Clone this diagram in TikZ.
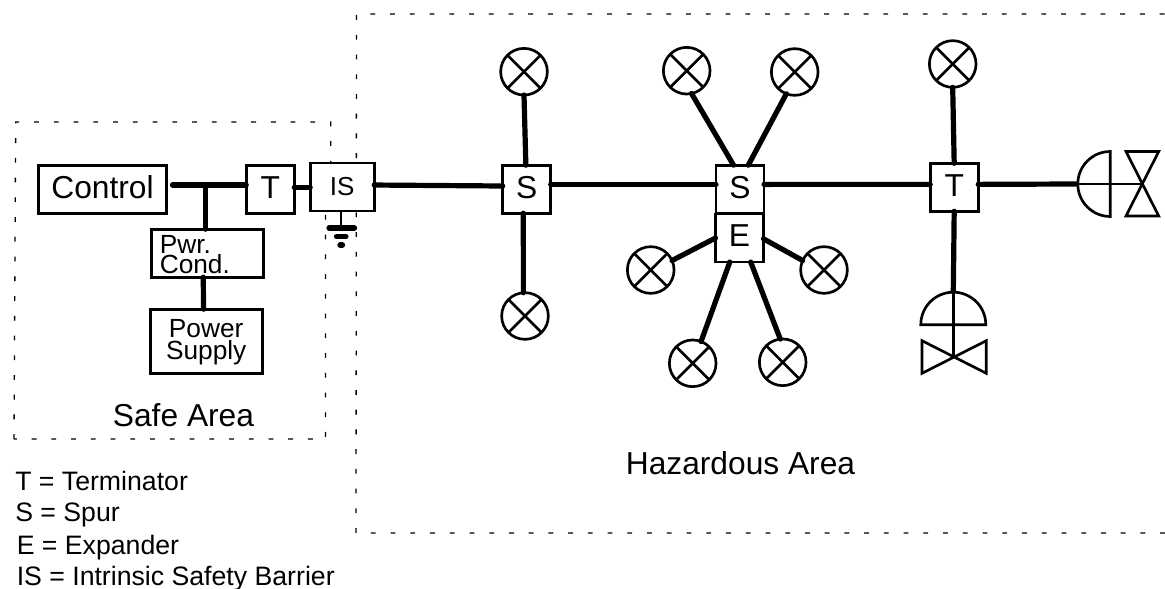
\documentclass[tikz,border=0pt]{standalone}
\usepackage{fontspec}
\setmainfont{Liberation Sans}
\tikzset{
  block/.style={draw,line width=2pt,fill=white,inner sep=0pt,outer sep=0pt,text depth=3pt,font=\fontsize{23.8}{24}\selectfont},
  lamp/.style={circle,draw,line width=2pt,fill=white,inner sep=0pt,outer sep=0pt,minimum size=35pt,
    path picture={
      \draw[line width=2pt] (path picture bounding box.south west) -- (path picture bounding box.north east);
      \draw[line width=2pt] (path picture bounding box.north west) -- (path picture bounding box.south east);
    }},
  area/.style={line width=1pt,dash pattern=on 3.6pt off 11.2pt},
  bus/.style={line width=3.9pt,line cap=round},
  wire/.style={line width=2pt},
  legend/.style={anchor=base west,inner sep=0pt,font=\fontsize{20}{24}\selectfont},
  title/.style={anchor=base,inner sep=0pt,font=\fontsize{23.8}{24}\selectfont}
}
\begin{document}
\begin{tikzpicture}[x=0.75pt,y=-0.75pt]
  \useasboundingbox (0,0) rectangle (1165,589);
  \draw[area] (14,439) -- (15.7,122) -- (330.7,122) -- (330.7,190) -- (325.5,190) -- (325.5,439) -- cycle;
  \draw[area] (1165,533) -- (356,533) -- (356.5,14) -- (1165,14);
  \node[block,minimum width=96pt,minimum height=36pt] (control) at (102.5,189.3) {Control};
  \node[block,minimum width=36pt,minimum height=36pt] (term0) at (270.2,189.3) {T};
  \node[block,minimum width=48pt,minimum height=36pt,text depth=-3pt,font=\fontsize{19.5}{20}\selectfont] (barrier) at (342.2,186.9) {IS};
  \node[block,minimum width=84pt,minimum height=36pt,text width=72pt,align=left,text depth=13.5pt,font=\fontsize{19.7}{15}\selectfont] (pwrcond) at (207.8,253.2) {Pwr.\\Cond.};
  \node[block,minimum width=84pt,minimum height=48pt,align=center,font=\fontsize{19.7}{16.2}\selectfont] (supply) at (206.2,341.2) {Power\\Supply};
  \node[block,minimum width=36pt,minimum height=36pt] (spur1) at (526.7,189.2) {S};
  \node[block,minimum width=36pt,minimum height=36pt] (spur2) at (740,189.2) {S};
  \node[block,minimum width=36pt,minimum height=36pt] (exp) at (739.5,238) {E};
  \node[block,minimum width=36pt,minimum height=36pt] (term1) at (954.2,187.3) {T};
  \node[lamp] (l1) at (524,71.7) {};
  \node[lamp] (l2) at (525,316) {};
  \node[lamp] (l3) at (686.7,70.7) {};
  \node[lamp] (l4) at (794.7,72) {};
  \node[lamp] (l5) at (650.7,270) {};
  \node[lamp] (l6) at (824,270) {};
  \node[lamp] (l7) at (692.7,363.3) {};
  \node[lamp] (l8) at (782.7,362.3) {};
  \node[lamp] (l9) at (952.7,64) {};
  \coordinate (tee) at (205.5,185);
  \coordinate (vtop) at (953.3,291.7);
  \coordinate (vright) at (1076,184);
  \coordinate (gnd) at (341,228);
  \draw[wire] (vright) -- (1142.3,184);
  \draw[wire] (1110.3,151.5) arc[start angle=270,end angle=90,radius=32.5] -- cycle;
  \draw[wire] (1126,151.5) -- (1158.7,151.5) -- (1126,216) -- (1158.7,216) -- cycle;
  \draw[wire] (vtop) -- (953.3,356.7);
  \draw[wire] (920.8,324.7) arc[start angle=180,end angle=360,radius=32.5] -- cycle;
  \draw[wire] (922,340.7) -- (922,373.3) -- (986.3,340.7) -- (986.3,373.3) -- cycle;
  \begin{scope}[bus]
    \draw[shorten <=4.5pt] (control.east |- tee) to (term0.west |- tee);
    \draw (tee) to (pwrcond.north -| tee);
    \draw ([xshift=-3.4pt]pwrcond.south) to ([xshift=-2pt]supply.north);
    \draw ([yshift=1.5pt]term0.east) to ([yshift=-.3pt]barrier.west);
    \draw ([yshift=1.4pt]barrier.east) to ([yshift=2.4pt]spur1.west);
    \draw ([yshift=3.6pt]spur1.east) to ([yshift=3.6pt]spur2.west);
    \draw ([yshift=3.6pt]spur2.east) to ([yshift=2.2pt]term1.west);
    \draw ([yshift=2.2pt]term1.east) to (vright);
    \draw (spur1.92) to (l1.south);
    \draw (spur1.-98) to (l2.94);
    \draw (spur2.105) to (l3.-78);
    \draw (spur2.71) to (l4.-111);
    \draw (exp.west) to (l5.24);
    \draw (exp.-2) to (l6.156);
    \draw (exp.-112) to (l7.69);
    \draw (exp.-65) to (l8.96);
    \draw (term1.north) to (l9.south);
    \draw (term1.south) to (vtop);
  \end{scope}
  \draw[line width=2.2pt] (barrier.south -| gnd) to (gnd);
  \draw[bus] (329,228) -- (354.5,228);
  \draw[bus] (336.5,236.7) -- (346,236.7);
  \draw[bus] (340,245) -- (342.5,245);
  \node[title] (safe) at (183.5,426) {Safe Area};
  \node[title] (haz) at (740.5,474) {Hazardous Area};
  \node[legend] (leg1) at (15,490) {T = Terminator};
  \node[legend] (leg2) at (15,521.7) {S = Spur};
  \node[legend] (leg3) at (16.5,554) {E = Expander};
  \node[legend] (leg4) at (16.5,585) {IS = Intrinsic Safety Barrier};
\end{tikzpicture}
\end{document}
